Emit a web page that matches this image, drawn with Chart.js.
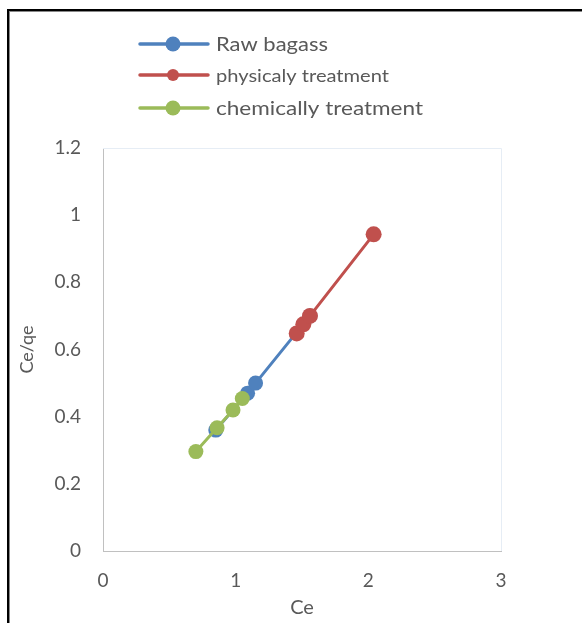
<!DOCTYPE html>
<html>
<head>
<meta charset="utf-8">
<script src="https://cdn.jsdelivr.net/npm/chart.js@4.4.0/dist/chart.umd.min.js"></script>
<style>
  html, body { margin: 0; padding: 0; background: #fff; }
  #wrap { position: relative; width: 582px; height: 623px; overflow: hidden; }
  #frame { position: absolute; left: 7px; top: 9px; width: 600px; height: 640px;
           border-left: 2px solid #000; border-top: 2px solid #000; box-shadow: inset 1px 1px 0 #888; pointer-events: none; }
  canvas { position: absolute; left: 0; top: 0; }
</style>
</head>
<body>
<div id="wrap">
  <canvas id="c" width="582" height="623"></canvas>
  <div id="frame"></div>
</div>
<script>
// ---- data ----
const seriesNames = ["Raw bagass", "physicaly treatment", "chemically treatment"];
const rawX  = [0.85, 1.09, 1.15, 1.56];
const rawY  = [0.36, 0.47, 0.50, 0.70];
const phyX  = [1.46, 1.51, 1.56, 2.04];
const phyY  = [0.648, 0.675, 0.70, 0.943];
const chemX = [0.70, 0.86, 0.98, 1.05];
const chemY = [0.296, 0.367, 0.42, 0.454];
const xTickLabels = ["0", "1", "2", "3"];
const yTickLabels = ["0", "0.2", "0.4", "0.6", "0.8", "1", "1.2"];
const xTitle = "Ce";
const yTitle = "Ce/qe";

const colors = ["#4f81bd", "#c0504d", "#9bbb59"];
const pts = (xs, ys) => xs.map((x, i) => ({ x: x, y: ys[i] }));

const legendStyle = [
  { size: 19.5, r: 7.5, y: 44, w: 112 },
  { size: 17.5, r: 6,   y: 75, w: 173 },
  { size: 19.5, r: 7.5, y: 108, w: 207 }
];

const legendPlugin = {
  id: 'customLegend',
  afterDraw(chart) {
    const ctx = chart.ctx;
    ctx.save();
    seriesNames.forEach((name, i) => {
      const st = legendStyle[i];
      ctx.strokeStyle = colors[i];
      ctx.lineWidth = 3.5;
      ctx.lineCap = 'round';
      ctx.beginPath();
      ctx.moveTo(140, st.y);
      ctx.lineTo(208, st.y);
      ctx.stroke();
      ctx.fillStyle = colors[i];
      ctx.beginPath();
      ctx.arc(173, st.y, st.r, 0, Math.PI * 2);
      ctx.fill();
      ctx.fillStyle = '#595959';
      ctx.font = st.size + 'px Lato';
      ctx.textBaseline = 'middle';
      ctx.textAlign = 'left';
      const mw = ctx.measureText(name).width;
      const sx = st.w / mw;
      ctx.save();
      ctx.translate(216, st.y + 1);
      ctx.scale(sx, 1);
      ctx.fillText(name, 0, 0);
      ctx.restore();
    });
    ctx.restore();
  }
};

const plotBorder = {
  id: 'plotBorder',
  beforeDatasetsDraw(chart) {
    const a = chart.chartArea, ctx = chart.ctx;
    ctx.save();
    ctx.strokeStyle = '#e6edf5';
    ctx.lineWidth = 1;
    ctx.beginPath();
    ctx.moveTo(a.left, a.top + 0.5);
    ctx.lineTo(a.right + 0.5, a.top + 0.5);
    ctx.lineTo(a.right + 0.5, a.bottom);
    ctx.stroke();
    ctx.restore();
  }
};

const tickFont = { family: 'Lato', size: 19 };

new Chart(document.getElementById('c'), {
  type: 'scatter',
  data: {
    datasets: [
      { label: seriesNames[0], data: pts(rawX, rawY), order: 2,
        borderColor: colors[0], backgroundColor: colors[0], showLine: true,
        borderWidth: 3, pointRadius: 7.5, pointHoverRadius: 7.5, pointBorderWidth: 0 },
      { label: seriesNames[1], data: pts(phyX, phyY), order: 1,
        borderColor: colors[1], backgroundColor: colors[1], showLine: true,
        borderWidth: 3, pointRadius: 8, pointHoverRadius: 8, pointBorderWidth: 0 },
      { label: seriesNames[2], data: pts(chemX, chemY), order: 0,
        borderColor: colors[2], backgroundColor: colors[2], showLine: true,
        borderWidth: 3, pointRadius: 7.5, pointHoverRadius: 7.5, pointBorderWidth: 0 }
    ]
  },
  options: {
    responsive: false,
    animation: false,
    devicePixelRatio: 1,
    layout: { padding: { left: 0, top: 148, right: 81, bottom: 0 } },
    plugins: { legend: { display: false }, tooltip: { enabled: false } },
    scales: {
      x: {
        type: 'linear', min: 0, max: 3,
        ticks: { stepSize: 1, padding: 18, color: '#595959', font: tickFont,
                 callback: (v, i) => xTickLabels[i] },
        grid: { display: false, drawTicks: false },
        border: { display: true, color: '#c0c0c0', width: 1 },
        title: { display: true, text: xTitle, color: '#595959', font: { family: 'Lato', size: 20 },
                 padding: { top: 0, bottom: 3 } },
        afterFit: (s) => { s.height = 72; }
      },
      y: {
        type: 'linear', min: 0, max: 1.2,
        ticks: { stepSize: 0.2, padding: 22, color: '#595959', font: tickFont,
                 callback: (v, i) => yTickLabels[i] },
        grid: { display: false, drawTicks: false },
        border: { display: true, color: '#c0c0c0', width: 1 },
        title: { display: true, text: yTitle, color: '#595959', font: { family: 'Lato', size: 18 },
                 padding: { top: 16, bottom: 0 } },
        afterFit: (s) => { s.width = 103; }
      }
    }
  },
  plugins: [plotBorder, legendPlugin]
});
</script>
</body>
</html>
